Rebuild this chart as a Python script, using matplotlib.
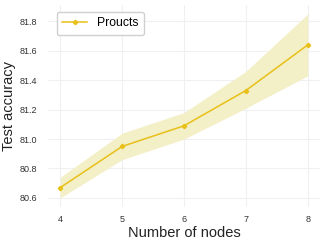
import matplotlib
matplotlib.use("Agg")
import matplotlib.pyplot as plt

plt.rcParams['font.family'] = ['Liberation Sans', 'DejaVu Sans']

nodes = [4, 5, 6, 7, 8]
acc_mean = [80.67, 80.95, 81.09, 81.33, 81.64]
acc_low = [80.60, 80.86, 81.00, 81.21, 81.43]
acc_high = [80.74, 81.04, 81.18, 81.46, 81.85]

line_color = '#e8c018'

fig = plt.figure(figsize=(3.24, 2.43), dpi=100)
ax = fig.add_axes([0.148, 0.148, 0.840, 0.832])

ax.fill_between(nodes, acc_low, acc_high, color='#f3efc6', linewidth=0)
ax.plot(nodes, acc_mean, color=line_color, linewidth=1.1, marker='P', markersize=2.8,
        label='Proucts')

ax.set_xticks(nodes)
ax.set_yticks([80.6, 80.8, 81.0, 81.2, 81.4, 81.6, 81.8])
ax.set_yticklabels(['80.6', '80.8', '81.0', '81.2', '81.4', '81.6', '81.8'])
ax.tick_params(length=0, labelsize=6.5, colors='#333333')
ax.tick_params(axis='y', pad=8)
ax.tick_params(axis='x', pad=6)
for s in ax.spines.values():
    s.set_visible(False)
ax.grid(True, color='#f0f0f0', linewidth=0.8)
ax.set_axisbelow(True)

ax.set_xlabel('Number of nodes', fontsize=10.5, labelpad=1, color='#222222')
ax.set_ylabel('Test accuracy', fontsize=10.5, labelpad=2, color='#222222')

ax.legend(loc='upper left', fontsize=8.8, frameon=True, fancybox=True, framealpha=1,
          edgecolor='#d0d0d0', borderpad=0.45, handlelength=2.0,
          bbox_to_anchor=(0.01, 0.995))

fig.savefig('out.png', dpi=100)
